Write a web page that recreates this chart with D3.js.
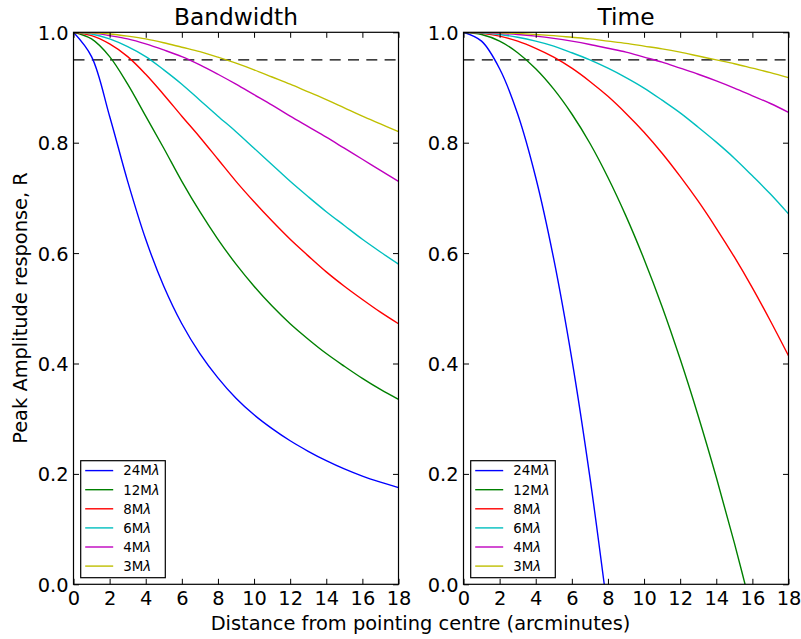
<!DOCTYPE html>
<html>
<head>
<meta charset="utf-8">
<script src="https://cdn.jsdelivr.net/npm/d3@7"></script>
<style>
  html, body { margin: 0; padding: 0; background: #ffffff; }
  svg { display: block; font-family: "DejaVu Sans", sans-serif; }
</style>
</head>
<body>
<svg id="chart" width="801" height="639"></svg>
<script>
// ---- data ----
const distance = [0,1,2,3,4,5,6,7,8,9,10,11,12,13,14,15,16,17,18];
const seriesNames = ["24M", "12M", "8M", "6M", "4M", "3M"];
const seriesColors = ["#0000ff", "#008000", "#ff0000", "#00bfbf", "#bf00bf", "#bfbf00"];

// Bandwidth panel
const bw24 = [1,0.956,0.848,0.730,0.625,0.540,0.472,0.418,0.374,0.337,0.307,0.282,0.260,0.241,0.224,0.209,0.196,0.185,0.175];
const bw12 = [1,0.988,0.956,0.906,0.848,0.790,0.730,0.675,0.625,0.580,0.540,0.504,0.472,0.444,0.418,0.395,0.373,0.353,0.335];
const bw8  = [1,0.994,0.979,0.956,0.924,0.887,0.848,0.810,0.770,0.730,0.693,0.658,0.625,0.595,0.566,0.540,0.516,0.493,0.472];
const bw6  = [1,0.997,0.988,0.974,0.956,0.932,0.906,0.877,0.848,0.820,0.790,0.760,0.730,0.702,0.675,0.650,0.625,0.602,0.580];
const bw4  = [1,0.999,0.994,0.988,0.979,0.968,0.956,0.941,0.924,0.906,0.887,0.868,0.848,0.829,0.810,0.790,0.770,0.750,0.730];
const bw3  = [1,0.999,0.997,0.993,0.988,0.981,0.973,0.965,0.955,0.944,0.932,0.919,0.906,0.892,0.878,0.863,0.848,0.834,0.820];

// Time panel (24M and 12M run below zero and are cut at the axis)
const tm24 = [1,0.984,0.934,0.852,0.737,0.589,0.408,0.194,-0.052,null,null,null,null,null,null,null,null,null,null];
const tm12 = [1,0.996,0.984,0.963,0.934,0.897,0.852,0.799,0.737,0.667,0.589,0.503,0.408,0.305,0.194,0.075,-0.052,null,null];
const tm8  = [1,0.998,0.993,0.984,0.971,0.955,0.935,0.911,0.884,0.853,0.819,0.781,0.739,0.694,0.645,0.593,0.537,0.477,0.414];
const tm6  = [1,0.999,0.996,0.991,0.984,0.975,0.963,0.950,0.935,0.918,0.899,0.877,0.854,0.828,0.801,0.772,0.740,0.707,0.671];
const tm4  = [1,1.000,0.998,0.996,0.993,0.989,0.984,0.978,0.971,0.964,0.955,0.946,0.935,0.924,0.912,0.899,0.885,0.871,0.855];
const tm3  = [1,1.000,0.999,0.998,0.996,0.994,0.991,0.988,0.984,0.980,0.975,0.970,0.964,0.957,0.950,0.943,0.935,0.927,0.918];

const xTickValues = [0,2,4,6,8,10,12,14,16,18];
const yTickValues = [0,0.2,0.4,0.6,0.8,1.0];
const thresholdLevel = 0.95;
const panelTitles = ["Bandwidth", "Time"];
const xLabel = "Distance from pointing centre (arcminutes)";
const yLabel = "Peak Amplitude response, R";

const panels = [
  { title: panelTitles[0], series: [bw24, bw12, bw8, bw6, bw4, bw3] },
  { title: panelTitles[1], series: [tm24, tm12, tm8, tm6, tm4, tm3] }
];

// ---- layout ----
const svg = d3.select("#chart");
const plotTop = 32.3, plotBottom = 584.3;
const panelX = [[73.5, 398.5], [463.5, 788.5]];
const tickFont = 19.4, titleFont = 23.3, labelFont = 19.4, legendFont = 13.4;
const lw = 1.4, tickLen = 5.5;

const y = d3.scaleLinear().domain([0, 1]).range([plotBottom, plotTop]);

panels.forEach((p, pi) => {
  const [x0, x1] = panelX[pi];
  const x = d3.scaleLinear().domain([0, 18]).range([x0, x1]);
  const g = svg.append("g");

  const clipId = "clip" + pi;
  svg.append("clipPath").attr("id", clipId)
    .append("rect").attr("x", x0).attr("y", plotTop).attr("width", x1 - x0).attr("height", plotBottom - plotTop);

  const plot = g.append("g").attr("clip-path", `url(#${clipId})`);

  // threshold dashed line
  plot.append("line")
    .attr("x1", x(0)).attr("x2", x(18))
    .attr("y1", y(thresholdLevel)).attr("y2", y(thresholdLevel))
    .attr("stroke", "#000").attr("stroke-width", lw)
    .attr("stroke-dasharray", "11,7.3");

  const line = d3.line()
    .defined(d => d[1] !== null)
    .x(d => x(d[0])).y(d => y(d[1]))
    .curve(d3.curveCatmullRom.alpha(0.5));

  p.series.forEach((vals, si) => {
    const pts = distance.map((d, i) => [d, vals[i]]);
    plot.append("path")
      .attr("d", line(pts))
      .attr("fill", "none")
      .attr("stroke", seriesColors[si])
      .attr("stroke-width", lw);
  });

  // axes with inward ticks on all four sides
  const axB = d3.axisBottom(x).tickValues(xTickValues).tickSize(-tickLen).tickPadding(6).tickFormat(d3.format("d"));
  const axT = d3.axisTop(x).tickValues(xTickValues).tickSize(-tickLen).tickFormat("");
  const axL = d3.axisLeft(y).tickValues(yTickValues).tickSize(-tickLen).tickPadding(6).tickFormat(d3.format(".1f"));
  const axR = d3.axisRight(y).tickValues(yTickValues).tickSize(-tickLen).tickFormat("");

  const gb = g.append("g").attr("transform", `translate(0,${plotBottom})`).call(axB);
  const gt = g.append("g").attr("transform", `translate(0,${plotTop})`).call(axT);
  const gl = g.append("g").attr("transform", `translate(${x0},0)`).call(axL);
  const gr = g.append("g").attr("transform", `translate(${x1},0)`).call(axR);
  [gb, gt, gl, gr].forEach(a => {
    a.select(".domain").remove();
    a.selectAll(".tick line").attr("stroke", "#000").attr("stroke-width", 1);
    a.selectAll(".tick text").attr("fill", "#000").attr("font-size", tickFont)
      .attr("font-family", "DejaVu Sans");
  });
  gb.selectAll(".tick text").attr("dy", "0.71em").attr("y", 7);
  gl.selectAll(".tick text").attr("x", -5).attr("dy", "0.36em");

  // frame
  g.append("rect").attr("x", x0).attr("y", plotTop).attr("width", x1 - x0).attr("height", plotBottom - plotTop)
    .attr("fill", "none").attr("stroke", "#000").attr("stroke-width", 1.2);

  // title
  g.append("text").attr("x", (x0 + x1) / 2).attr("y", 24.5)
    .attr("text-anchor", "middle").attr("font-size", titleFont).attr("fill", "#000")
    .text(p.title);

  // legend
  const lx = x0 + 7.2, ly = 460.7, lwBox = 84.6, lhBox = 117;
  const lg = g.append("g");
  lg.append("rect").attr("x", lx).attr("y", ly).attr("width", lwBox).attr("height", lhBox)
    .attr("fill", "#fff").attr("stroke", "#000").attr("stroke-width", 1.2);
  seriesNames.forEach((name, si) => {
    const ry = 470.6 + si * 19.1;
    lg.append("line").attr("x1", lx + 4.5).attr("x2", lx + 32.5).attr("y1", ry).attr("y2", ry)
      .attr("stroke", seriesColors[si]).attr("stroke-width", lw);
    const t = lg.append("text").attr("x", lx + 42.5).attr("y", ry).attr("dy", "0.36em")
      .attr("font-size", legendFont).attr("fill", "#000");
    t.append("tspan").text(name);
    t.append("tspan").attr("font-style", "italic").text("λ");
  });
});

// axis labels
svg.append("text").attr("x", 420.5).attr("y", 630)
  .attr("text-anchor", "middle").attr("font-size", labelFont).attr("fill", "#000")
  .text(xLabel);
svg.append("text").attr("transform", "translate(27,308) rotate(-90)")
  .attr("text-anchor", "middle").attr("font-size", labelFont).attr("fill", "#000")
  .text(yLabel);
</script>
</body>
</html>
